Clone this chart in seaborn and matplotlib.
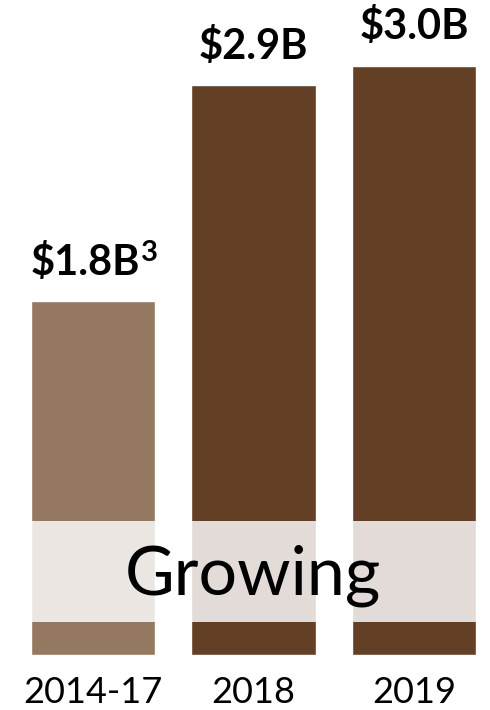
import matplotlib
matplotlib.use("Agg")
import matplotlib.pyplot as plt
import seaborn as sns
import pandas as pd

# Annual spend by period
periods = ["2014-17", "2018", "2019"]
values = [1.8, 2.9, 3.0]
labels = ["$1.8B", "$2.9B", "$3.0B"]
footnotes = ["3", "", ""]
bar_colors = ["#957860", "#633f25", "#633f25"]

df = pd.DataFrame({"period": periods, "value": values})

sns.set_theme(style="white")
plt.rcParams["font.family"] = ["Lato", "DejaVu Sans"]

W, H = 490, 710
fig = plt.figure(figsize=(W / 100, H / 100), dpi=100)
base_px = 55
ax = fig.add_axes([0, base_px / H, 1, 1 - base_px / H])

sns.barplot(data=df, x="period", y="value", hue="period", palette=bar_colors,
            width=0.773, legend=False, ax=ax, saturation=1)

step = 160.5
ax.set_xlim(-93 / step, (W - 93) / step)
px_per_unit = 196.5
ax.set_ylim(0, (H - base_px) / px_per_unit)

# value labels above bars (with optional footnote marker)
pt = 72 / 100  # points per pixel at 100 dpi
for i, (v, lab, fn) in enumerate(zip(values, labels, footnotes)):
    shift = -8.0 if fn else 0.0
    ax.annotate(lab.replace("$", r"\$"), xy=(i, v),
                xytext=(shift * pt, 19), textcoords="offset points",
                ha="center", va="baseline",
                fontsize=30, fontweight="bold", color="black")
    if fn:
        ax.annotate(fn, xy=(i, v), xytext=((shift + 56) * pt, 29),
                    textcoords="offset points", ha="left", va="baseline",
                    fontsize=21, fontweight="bold", color="black")

# translucent band with the caption
ax.axhspan(0.17, 0.682, xmin=31 / W, xmax=476 / W, color="white", alpha=0.82,
           lw=0, zorder=3)
ax.text(253 / step - 93 / step, 0.31, "Growing", ha="center", va="baseline",
        fontsize=49, color="black", zorder=4)

for s in ax.spines.values():
    s.set_visible(False)
ax.set_yticks([])
ax.set_xlabel("")
ax.set_ylabel("")
ax.tick_params(axis="x", length=0, pad=15, labelsize=26)
for t in ax.get_xticklabels():
    t.set_color("black")

fig.savefig("out.png", dpi=100, facecolor="white")
